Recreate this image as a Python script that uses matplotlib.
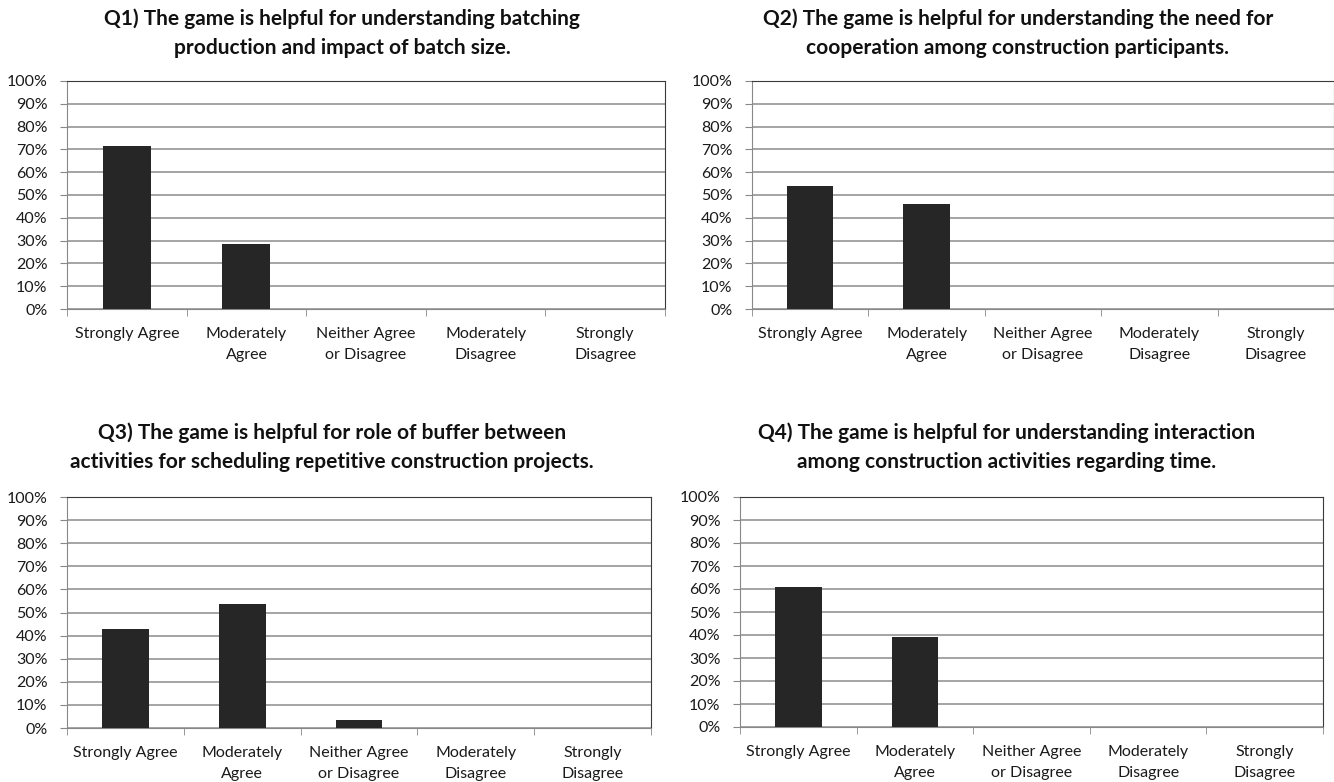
import matplotlib.pyplot as plt
import numpy as np

plt.rcParams['font.family'] = ['Lato', 'DejaVu Sans']

categories = ['Strongly Agree', 'Moderately\nAgree', 'Neither Agree\nor Disagree',
              'Moderately\nDisagree', 'Strongly\nDisagree']
yticks = np.arange(0, 101, 10)
ytick_labels = ['%d%%' % v for v in yticks]

titles = ['Q1) The game is helpful for understanding batching\nproduction and impact of batch size.',
          'Q2) The game is helpful for understanding the need for\ncooperation among construction participants.',
          'Q3) The game is helpful for role of buffer between\nactivities for scheduling repetitive construction projects.',
          'Q4) The game is helpful for understanding interaction\namong construction activities regarding time.']

q1 = [71.4, 28.6, 0, 0, 0]
q2 = [53.8, 46.2, 0, 0, 0]
q3 = [42.9, 53.6, 3.6, 0, 0]
q4 = [60.7, 39.3, 0, 0, 0]
values = [q1, q2, q3, q4]

W, H = 1334, 782
fig = plt.figure(figsize=(W / 100, H / 100), dpi=100)

# axes boxes in pixels: left, top, right, bottom
boxes = [(67, 81, 665, 309),
         (752, 81, 1334, 309),
         (67, 497, 651, 728),
         (740, 497, 1323, 727)]
# title centre (x, y of the middle between the two lines) in pixels
title_pos = [(342, 33), (1018, 33), (332, 447), (1007, 447)]

for box, vals, title, tp in zip(boxes, values, titles, title_pos):
    l, t, r, b = box
    ax = fig.add_axes([l / W, 1 - b / H, (r - l) / W, (b - t) / H])
    x = np.arange(len(categories))
    ax.bar(x, vals, width=0.4, color='#262626', zorder=3)
    ax.set_xlim(-0.5, len(categories) - 0.5)
    ax.set_ylim(0, 100)
    ax.set_yticks(yticks)
    ax.set_yticklabels(ytick_labels, fontsize=11.5, color='#1a1a1a')
    ax.set_xticks(x)
    ax.set_xticklabels(categories, fontsize=11.5, va='top', linespacing=1.6, color='#1a1a1a')
    ax.set_xticks(np.arange(-0.5, len(categories)), minor=True)
    ax.tick_params(axis='x', which='major', length=0, pad=13)
    ax.tick_params(axis='x', which='minor', length=5, color='#888888', direction='out')
    ax.tick_params(axis='y', length=5, color='#888888', pad=9)
    ax.grid(axis='y', color='#8c8c8c', linewidth=1.1, zorder=0)
    ax.spines['left'].set_color('#888888')
    ax.spines['bottom'].set_color('#888888')
    ax.spines['top'].set_color('#3a3a3a')
    ax.spines['right'].set_color('#3a3a3a')
    fig.text(tp[0] / W, 1 - tp[1] / H, title, ha='center', va='center',
             fontsize=15, fontweight='bold', linespacing=1.55, color='#111111')

fig.savefig('out.png', dpi=100)
